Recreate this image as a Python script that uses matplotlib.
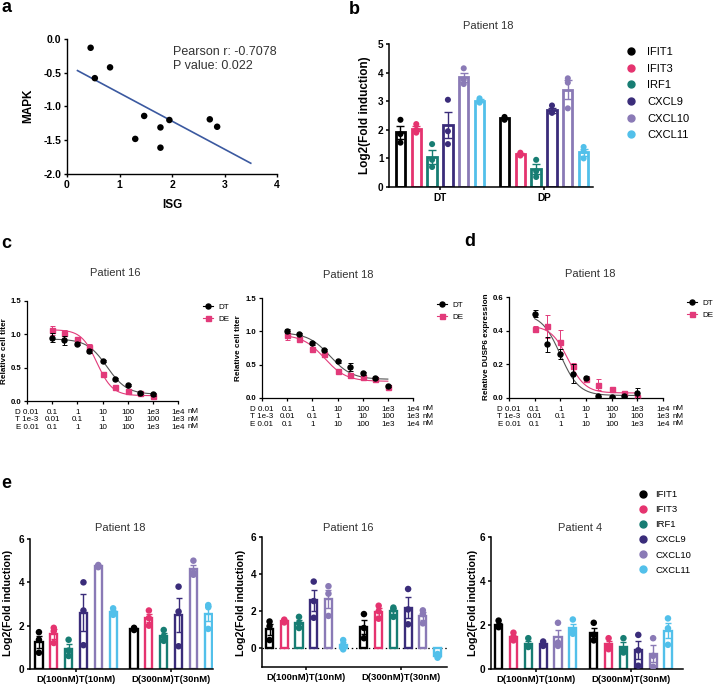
import numpy as np
import matplotlib
matplotlib.use("Agg")
import matplotlib.pyplot as plt
from matplotlib.lines import Line2D

plt.rcParams['font.family'] = ['Liberation Sans', 'DejaVu Sans']

# ---------------- data ----------------
# panel a
isg = [0.45, 0.53, 0.82, 1.30, 1.47, 1.78, 1.78, 1.95, 2.72, 2.86]
mapk = [-0.13, -0.58, -0.42, -1.48, -1.14, -1.31, -1.61, -1.20, -1.19, -1.30]
a_xticks = [0, 1, 2, 3, 4]
a_yticks = [0.0, -0.5, -1.0, -1.5, -2.0]
pearson_text = "Pearson r: -0.7078\nP value: 0.022"

genes = ['IFIT1', 'IFIT3', 'IRF1', 'CXCL9', 'CXCL10', 'CXCL11']
gene_colors = ['#000000', '#e5336f', '#177d73', '#3a2c7a', '#8a7ab6', '#52c0ea']

# panel b (Patient 18)
b_groups = ['DT', 'DP']
b_dt_points = [[2.35, 1.85, 1.55], [2.2, 2.0, 1.9], [1.5, 0.95, 0.7],
               [3.05, 1.95, 1.5], [4.15, 3.75, 3.6], [3.1, 3.0, 2.95]]
b_dp_points = [[2.45, 2.4, 2.35], [1.2, 1.15, 1.1], [0.95, 0.55, 0.35],
               [2.85, 2.6, 2.6], [3.8, 3.65, 2.75], [1.4, 1.25, 1.0]]

# panel c / d (dose response)
conc_d = [0.1, 0.3, 1, 3, 10, 30, 100, 300, 1000]
c16_dt = [0.95, 0.91, 0.86, 0.75, 0.60, 0.33, 0.24, 0.12, 0.10]
c16_dt_err = [0.07, 0.07, 0.02, 0.03, 0.02, 0.02, 0.02, 0.01, 0.02]
c16_de = [1.06, 1.02, 0.93, 0.81, 0.41, 0.21, 0.15, 0.12, 0.07]
c16_de_err = [0.07, 0.04, 0.03, 0.05, 0.02, 0.02, 0.02, 0.01, 0.01]
c18_dt = [1.00, 0.96, 0.82, 0.72, 0.55, 0.47, 0.37, 0.30, 0.18]
c18_dt_err = [0.03, 0.02, 0.02, 0.02, 0.02, 0.06, 0.02, 0.02, 0.02]
c18_de = [0.94, 0.89, 0.74, 0.66, 0.40, 0.35, 0.32, 0.29, 0.16]
c18_de_err = [0.07, 0.02, 0.02, 0.02, 0.02, 0.02, 0.02, 0.02, 0.02]
d18_dt = [0.50, 0.32, 0.26, 0.145, 0.12, 0.01, 0.008, 0.01, 0.03]
d18_dt_err = [0.02, 0.045, 0.03, 0.055, 0.01, 0.003, 0.003, 0.003, 0.03]
d18_de = [0.41, 0.425, 0.335, 0.19, 0.11, 0.08, 0.055, 0.03, 0.005]
d18_de_err = [0.02, 0.07, 0.07, 0.02, 0.01, 0.035, 0.01, 0.01, 0.005]
# fitted 4PL parameters (top, bottom, IC50, hill)
c16_dt_fit = (0.93, 0.10, 15.0, 1.1)
c16_de_fit = (1.07, 0.08, 6.0, 1.4)
c18_dt_fit = (0.98, 0.28, 5.0, 1.0)
c18_de_fit = (0.95, 0.25, 3.0, 1.0)
d18_dt_fit = (0.50, 0.015, 1.0, 1.2)
d18_de_fit = (0.43, 0.03, 2.0, 1.3)
dose_ticks = [0.01, 0.1, 1, 10, 100, 1e3, 1e4]
d_tick_labels = ['0.01', '0.1', '1', '10', '100', '1e3', '1e4']
t_tick_labels = ['1e-3', '0.01', '0.1', '1', '10', '100', '1e3']
e_tick_labels = ['0.01', '0.1', '1', '10', '100', '1e3', '1e4']

# panel e
e_groups = ['D(100nM)T(10nM)', 'D(300nM)T(30nM)']
e18_g1 = [[1.7, 1.35, 0.75], [1.9, 1.75, 1.2], [1.35, 0.85, 0.6],
          [4.0, 2.7, 1.1], [4.8, 4.75, 4.7], [2.8, 2.55, 2.5]]
e18_g2 = [[1.9, 1.85, 1.8], [2.7, 2.35, 2.0], [1.8, 1.5, 1.3],
          [3.8, 2.65, 1.05], [5.0, 4.45, 4.35], [2.95, 2.85, 1.85]]
e16_g1 = [[1.45, 1.2, 0.45], [1.55, 1.5, 1.4], [1.7, 1.35, 1.1],
          [3.6, 2.55, 1.65], [3.35, 2.95, 1.75], [0.45, 0.2, -0.05]]
e16_g2 = [[1.85, 1.1, 0.55], [2.3, 2.0, 1.6], [2.2, 2.1, 1.7],
          [3.2, 2.1, 1.3], [2.05, 1.85, 1.35], [-0.3, -0.4, -0.5]]
e4_g1 = [[2.2, 1.95, 1.9], [1.65, 1.4, 1.3], [1.4, 1.05, 1.0],
         [1.25, 1.1, 1.05], [2.1, 1.2, 1.05], [2.25, 1.75, 1.6]]
e4_g2 = [[2.1, 1.55, 1.3], [1.4, 1.05, 0.9], [1.4, 0.9, 0.75],
         [1.55, 0.85, 0.15], [1.4, 0.6, 0.1], [2.3, 1.85, 1.1]]

DT_COLOR = '#000000'
DE_COLOR = '#e23a7a'

# ---------------- helpers ----------------
W, H = 714, 687
fig = plt.figure(figsize=(W / 100, H / 100), dpi=100)


def add_ax(l, t, r, b):
    return fig.add_axes([l / W, 1 - b / H, (r - l) / W, (b - t) / H])


def ftext(x, y, s, **kw):
    fig.text(x / W, 1 - y / H, s, **kw)


def style(ax, fs, lw=1.0):
    for s in ['top', 'right']:
        ax.spines[s].set_visible(False)
    for s in ['left', 'bottom']:
        ax.spines[s].set_linewidth(lw)
    ax.tick_params(direction='out', length=2.5, width=lw, labelsize=fs, pad=1.5)


def bold_ticks(ax, x=True, y=True):
    if x:
        plt.setp(ax.get_xticklabels(), fontweight='bold')
    if y:
        plt.setp(ax.get_yticklabels(), fontweight='bold')


def four_pl(x, p):
    top, bottom, ic50, hill = p
    return bottom + (top - bottom) / (1 + (x / ic50) ** hill)


def bar_panel(ax, groups_points, step, width, lw, s, capsize):
    for gi, pts_list in enumerate(groups_points):
        for k, pts in enumerate(pts_list):
            col = gene_colors[k]
            x = gi + (k - 2.5) * step
            m = np.mean(pts)
            se = np.std(pts, ddof=1) / np.sqrt(len(pts))
            ax.bar(x, m, width, facecolor='white', edgecolor=col,
                   linewidth=lw, zorder=2)
            ax.errorbar(x, m, yerr=se, color=col, lw=1.0, capsize=capsize,
                        capthick=1.0, zorder=3)
            ax.scatter([x] * len(pts), pts, s=s, color=col, zorder=4,
                       edgecolors='none')


def dose_panel(ax, dt, dt_err, de, de_err, fit_dt, fit_de, ylim, yticks, fs):
    xs = np.logspace(-1, 3, 200)
    ax.plot(xs, four_pl(xs, fit_dt), color='#555555', lw=0.8, zorder=2)
    ax.plot(xs, four_pl(xs, fit_de), color=DE_COLOR, lw=0.8, zorder=2)
    ax.errorbar(conc_d, dt, yerr=dt_err, fmt='o', color=DT_COLOR, ms=3.6,
                elinewidth=0.7, capsize=1.8, capthick=0.7, zorder=4)
    ax.errorbar(conc_d, de, yerr=de_err, fmt='s', color=DE_COLOR, ms=3.6,
                elinewidth=0.7, capsize=1.8, capthick=0.7, zorder=3)
    ax.set_xscale('log')
    ax.set_xlim(0.01, 1e4)
    ax.set_ylim(*ylim)
    ax.set_yticks(yticks)
    ax.set_yticklabels([f"{v:.1f}" for v in yticks])
    ax.minorticks_off()
    labels = []
    for i in range(len(dose_ticks)):
        if i == 0:
            labels.append(f"D {d_tick_labels[i]}\nT {t_tick_labels[i]}\nE {e_tick_labels[i]}")
        else:
            labels.append(f"{d_tick_labels[i]}\n{t_tick_labels[i]}\n{e_tick_labels[i]}")
    ax.set_xticks(dose_ticks)
    ax.set_xticklabels(labels, fontsize=5.8, linespacing=1.15)
    ax.tick_params(axis='x', pad=3)
    ax.tick_params(axis='y', labelsize=fs)
    bold_ticks(ax, x=False, y=True)
    ax.annotate("nM\nnM\nnM", xy=(1, 0), xycoords='axes fraction',
                xytext=(11, -5), textcoords='offset points', ha='center',
                va='top', fontsize=5.8, linespacing=1.15)


def dose_legend(ax, x, y):
    handles = [Line2D([0], [0], color=DT_COLOR, lw=0.8, marker='o', ms=3.6),
               Line2D([0], [0], color=DE_COLOR, lw=0.8, marker='s', ms=3.6)]
    ax.legend(handles, ['DT', 'DE'], loc='upper left',
              bbox_to_anchor=(x / W, 1 - y / H), bbox_transform=fig.transFigure,
              frameon=False, fontsize=5.8, handlelength=1.3, handletextpad=0.6,
              labelspacing=0.55, borderpad=0, borderaxespad=0)


def gene_legend(ax, x, y, fs, ms, spacing, pad):
    handles = [Line2D([0], [0], marker='o', ls='none', color=c, ms=ms)
               for c in gene_colors]
    ax.legend(handles, genes, loc='upper left',
              bbox_to_anchor=(x / W, 1 - y / H), bbox_transform=fig.transFigure,
              frameon=False, fontsize=fs, handlelength=1.0, handletextpad=pad,
              labelspacing=spacing, borderpad=0, borderaxespad=0)


# ---------------- panel a ----------------
ax = add_ax(67, 39, 277, 174)
style(ax, 7.5)
ax.scatter(isg, mapk, s=22, color='black', zorder=3, edgecolors='none')
slope, intercept = np.polyfit(isg, mapk, 1)
xl = np.array([0.2, 3.5])
ax.plot(xl, slope * xl + intercept, color='#3b59a0', lw=1.2, zorder=2)
ax.set_xlim(0, 4)
ax.set_ylim(-2, 0)
ax.set_xticks(a_xticks)
ax.set_yticks(a_yticks)
ax.set_yticklabels([f"{v:.1f}" for v in a_yticks])
bold_ticks(ax)
ax.text(0.505, 0.95, pearson_text, transform=ax.transAxes, fontsize=9,
        va='top', ha='left', color='#333333', linespacing=1.2)
ftext(28, 106, 'MAPK', rotation=90, ha='center', va='center',
      fontsize=8.5, fontweight='bold')
ftext(172, 205, 'ISG', ha='center', va='center', fontsize=8.5, fontweight='bold')

# ---------------- panel b ----------------
ax = add_ax(389, 44, 593, 187)
style(ax, 7.2, lw=1.1)
bar_panel(ax, [b_dt_points, b_dp_points], step=0.152, width=0.09, lw=2.0,
          s=19, capsize=3)
ax.set_xlim(-0.49, 1.47)
ax.set_ylim(0, 5)
ax.set_yticks([0, 1, 2, 3, 4, 5])
ax.set_xticks([0, 1])
ax.set_xticklabels(b_groups)
bold_ticks(ax)
ftext(488, 26, 'Patient 18', ha='center', va='center', fontsize=8, color='#333333')
ftext(365, 115, 'Log2(Fold induction)', rotation=90, ha='center', va='center',
      fontsize=8.5, fontweight='bold')
gene_legend(ax, 625, 47, fs=8, ms=5, spacing=0.6, pad=1.0)

# ---------------- panel c ----------------
ax = add_ax(27, 301, 178, 401)
style(ax, 5.6, lw=0.9)
dose_panel(ax, c16_dt, c16_dt_err, c16_de, c16_de_err, c16_dt_fit, c16_de_fit,
           (0, 1.5), [0.0, 0.5, 1.0, 1.5], 5.6)
ftext(115, 273, 'Patient 16', ha='center', va='center', fontsize=8, color='#333333')
ftext(5, 351, 'Relative cell titer', rotation=90, ha='center', va='center',
      fontsize=5.9, fontweight='bold')
dose_legend(ax, 203, 303)

ax = add_ax(262, 298, 413, 398)
style(ax, 5.6, lw=0.9)
dose_panel(ax, c18_dt, c18_dt_err, c18_de, c18_de_err, c18_dt_fit, c18_de_fit,
           (0, 1.5), [0.0, 0.5, 1.0, 1.5], 5.6)
ftext(348, 275, 'Patient 18', ha='center', va='center', fontsize=8, color='#333333')
ftext(238, 348, 'Relative cell titer', rotation=90, ha='center', va='center',
      fontsize=5.9, fontweight='bold')
dose_legend(ax, 437, 301)

# ---------------- panel d ----------------
ax = add_ax(509, 297, 663, 398)
style(ax, 5.6, lw=0.9)
dose_panel(ax, d18_dt, d18_dt_err, d18_de, d18_de_err, d18_dt_fit, d18_de_fit,
           (0, 0.6), [0.0, 0.2, 0.4, 0.6], 5.6)
ftext(590, 274, 'Patient 18', ha='center', va='center', fontsize=8, color='#333333')
ftext(487, 347, 'Relative DUSP6 expression', rotation=90, ha='center',
      va='center', fontsize=5.9, fontweight='bold')
dose_legend(ax, 687, 299)

# ---------------- panel e ----------------
e_specs = [
    ((30, 539, 213, 669), [e18_g1, e18_g2], (-0.484, 1.44), (0, 6), 'Patient 18', 120, 8),
    ((262, 537, 447, 667), [e16_g1, e16_g2], (-0.47, 1.49), (-1, 6), 'Patient 16', 348, 241),
    ((491, 537, 683, 669), [e4_g1, e4_g2], (-0.47, 1.548), (0, 6), 'Patient 4', 580, 473),
]
for box, pts, xlim, ylim, title, tx, ylx in e_specs:
    ax = add_ax(*box)
    style(ax, 7.2, lw=1.1)
    if ylim[0] < 0:
        ax.axhline(0, color='black', lw=0.9, ls=(0, (1.2, 2.2)), zorder=1)
    bar_panel(ax, pts, step=0.156, width=0.075, lw=1.7, s=22, capsize=2.5)
    ax.set_xlim(*xlim)
    ax.set_ylim(*ylim)
    ax.set_yticks([0, 2, 4, 6])
    ax.set_xticks([0, 1])
    ax.set_xticklabels(e_groups, fontsize=6.8)
    bold_ticks(ax)
    ftext(tx, 528, title, ha='center', va='center', fontsize=8, color='#333333')
    ftext(ylx, 603, 'Log2(Fold induction)', rotation=90, ha='center',
          va='center', fontsize=7.7, fontweight='bold')
    if title == 'Patient 4':
        gene_legend(ax, 638, 490, fs=6.8, ms=5, spacing=0.65, pad=0.8)

# ---------------- panel letters ----------------
for letter, x, y in [('a', 7, 8), ('b', 354, 10), ('c', 6, 243), ('d', 470, 242),
                     ('e', 6, 484)]:
    ftext(x, y, letter, ha='center', va='center', fontsize=13, fontweight='bold')

fig.savefig('out.png', dpi=100)
